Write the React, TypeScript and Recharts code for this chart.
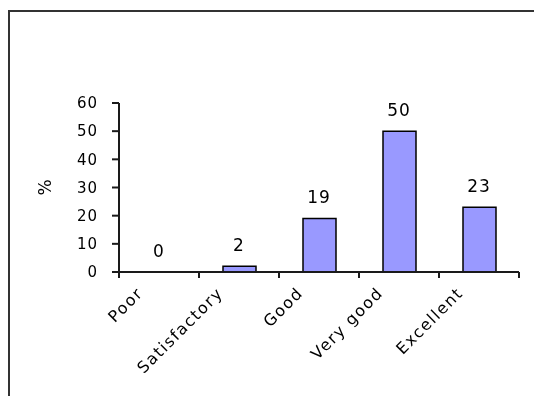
import { ComposedChart, Bar, Line, XAxis, YAxis, LabelList } from 'recharts'

const categories = ['Poor', 'Satisfactory', 'Good', 'Very good', 'Excellent']
const percentages = [0, 2, 19, 50, 23]
const yTicks = [0, 10, 20, 30, 40, 50, 60]
const yLabel = '%'

const FONT = '"DejaVu Sans", Arial, sans-serif'
const INK = '#1a1a1a'
const FRAME = '#333'
const BAR_FILL = '#9999ff'

const W = 524
const H = 384
const MARGIN = { top: 91, right: 15, bottom: 94, left: 0 }
const Y_W = 109
const X_H = 30
const PLOT_W = W - MARGIN.left - MARGIN.right - Y_W

const data = categories.map((name, i) => ({ name, value: percentages[i] }))

// category ticks sit between bars (Excel style), labels slanted
function CategoryTick(props: any) {
  const { x, y, payload, index } = props
  const step = PLOT_W / categories.length
  const last = index === categories.length - 1
  return (
    <g>
      <line x1={x - step / 2} x2={x - step / 2} y1={y} y2={y + 6} stroke={INK} strokeWidth={2} />
      {last && <line x1={x + step / 2} x2={x + step / 2} y1={y} y2={y + 6} stroke={INK} strokeWidth={2} />}
      <text transform={`translate(${x - 15},${y + 22}) rotate(-45)`} textAnchor="end"
        fontFamily={FONT} fontSize={16} letterSpacing={1.5} fill="#000">
        {payload.value}
      </text>
    </g>
  )
}

function PercentLabel(props: any) {
  const vb = props.viewBox
  const cx = vb.x + 35
  const cy = vb.y + vb.height / 2
  return (
    <text x={cx} y={cy} transform={`rotate(-90 ${cx} ${cy})`} textAnchor="middle" dominantBaseline="central"
      fontFamily={FONT} fontSize={17} fill="#000">
      {yLabel}
    </text>
  )
}

export default function App() {
  return (
    <>
      {/* frame: only the left and top edges show in the crop */}
      <div style={{ position: 'fixed', left: 8, top: 10, width: 2, height: H + 2, background: FRAME }} />
      <div style={{ position: 'fixed', left: 8, top: 10, width: W + 2, height: 2, background: FRAME }} />
      <div style={{ position: 'fixed', left: 10, top: 12, width: W, height: H }}>
        <ComposedChart width={W} height={H} data={data} margin={MARGIN} barSize={33} style={{ outline: 'none' }}>
          <XAxis dataKey="name" height={X_H} tick={<CategoryTick />} tickLine={false} tickSize={0} tickMargin={0}
            axisLine={{ stroke: INK, strokeWidth: 2 }} interval={0} />
          <YAxis width={Y_W} domain={[0, 60]} ticks={yTicks} interval={0} tickSize={7} tickMargin={14}
            tick={{ fill: '#000', fontSize: 15, fontFamily: FONT, letterSpacing: 1 }}
            tickLine={{ stroke: INK, strokeWidth: 2 }} axisLine={{ stroke: INK, strokeWidth: 2 }}
            label={{ content: <PercentLabel /> }} />
          <Bar dataKey="value" fill={BAR_FILL} stroke="#000" strokeWidth={1.5} isAnimationActive={false} />
          {/* invisible carrier so that the zero value still gets its label */}
          <Line dataKey="value" stroke="none" dot={false} activeDot={false} legendType="none" isAnimationActive={false}>
            <LabelList dataKey="value" position="top" offset={15}
              style={{ fill: '#000', fontSize: 17, fontFamily: FONT, letterSpacing: 1 }} />
          </Line>
        </ComposedChart>
      </div>
    </>
  )
}
